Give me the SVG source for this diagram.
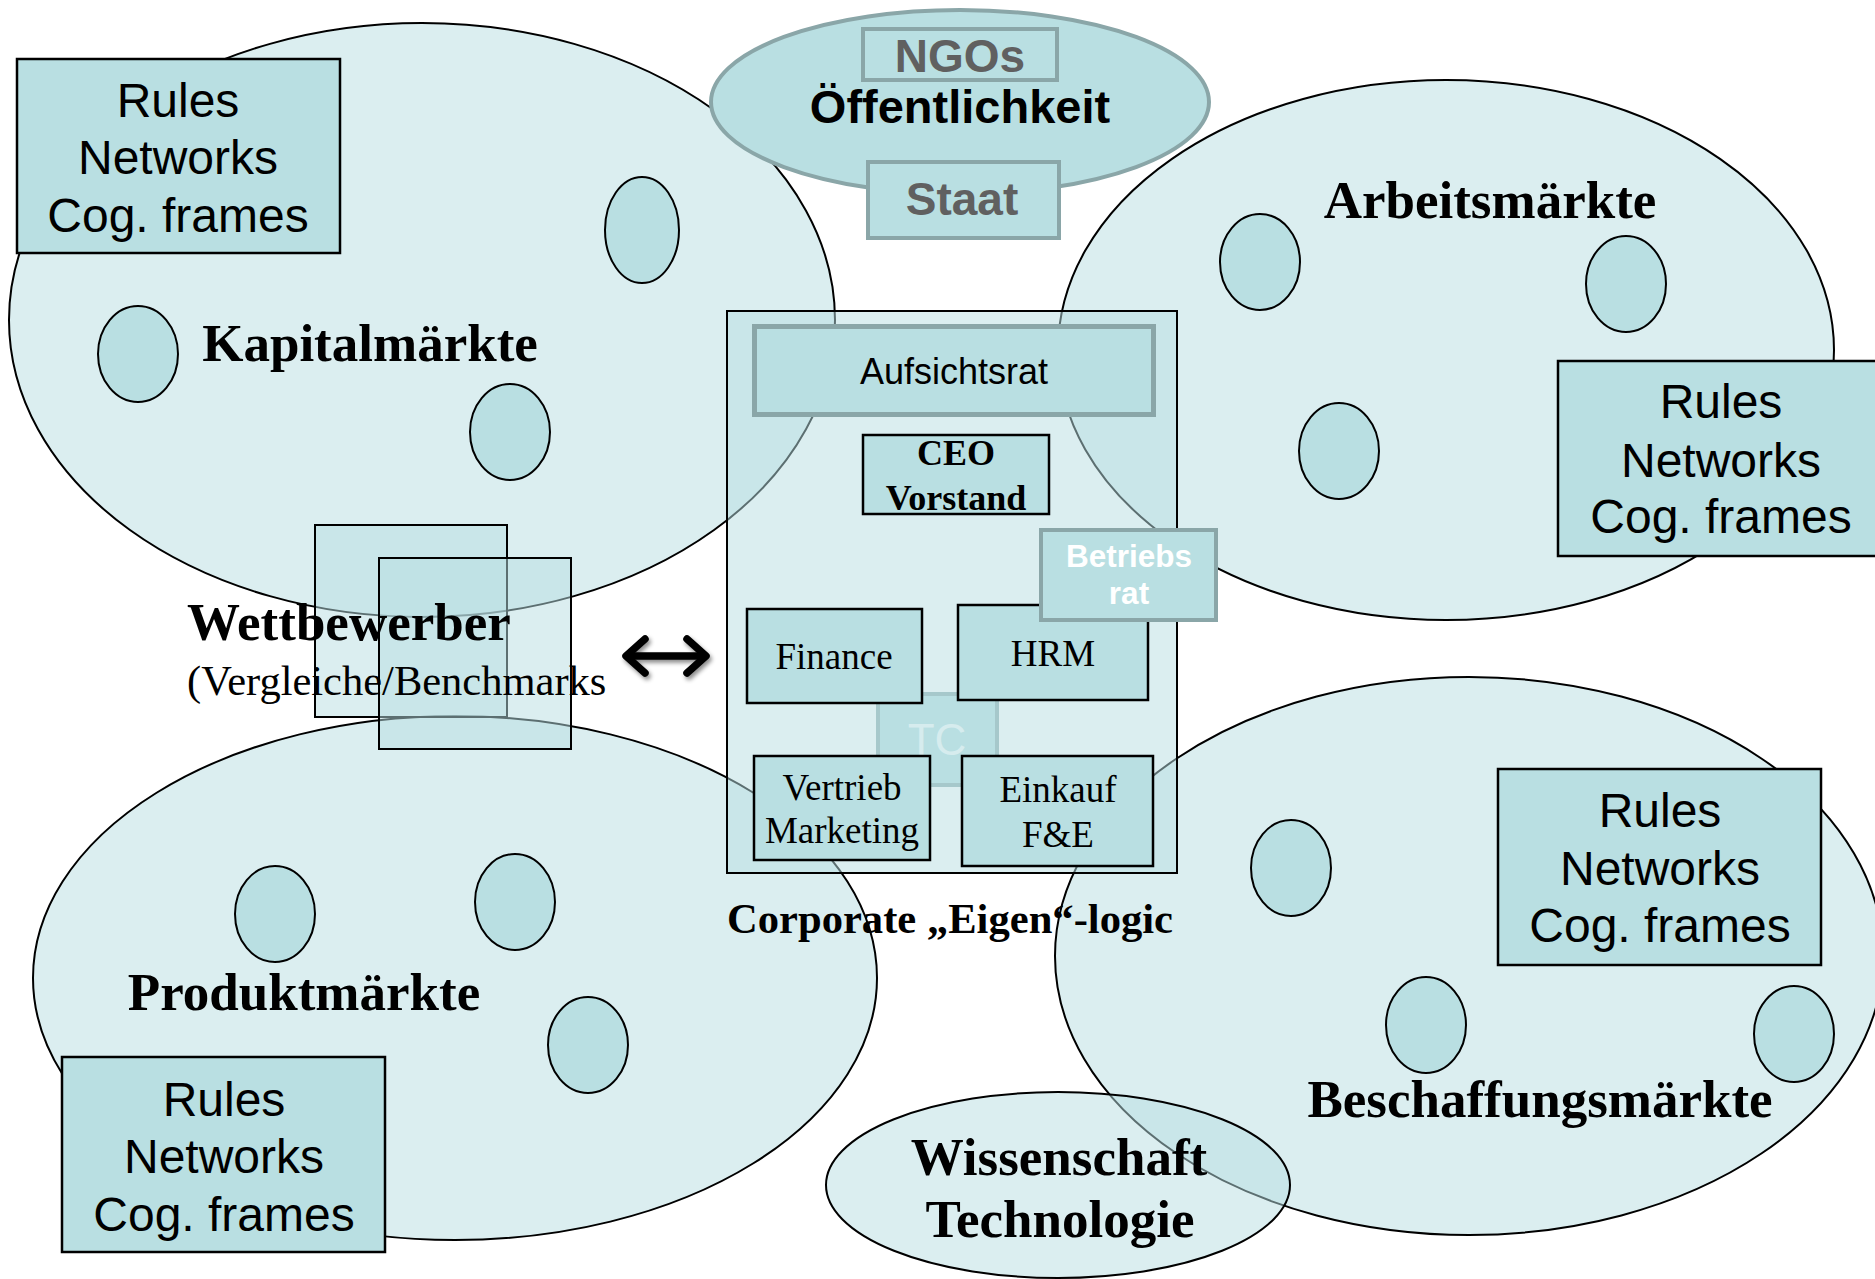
<svg xmlns="http://www.w3.org/2000/svg" width="1875" height="1279" viewBox="0 0 1875 1279">
<defs>
<style>
.big{fill:#b7dde2;fill-opacity:0.5;stroke:#000;stroke-width:2}
.dot{fill:#b9dfe2;stroke:#000;stroke-width:2}
.box{fill:#b9dfe2;stroke:#000;stroke-width:2.5}
.gbox{fill:#b9dfe2;stroke:#8aa6a8;stroke-width:4}
.tr{fill:#b7dde2;fill-opacity:0.5;stroke:#000;stroke-width:2}
.sans{font-family:"Liberation Sans",Arial,sans-serif}
.serif{font-family:"Liberation Serif","Times New Roman",serif}
.mk{font-family:"Liberation Serif","Times New Roman",serif;font-weight:bold;font-size:53px;fill:#000}
.rules{font-family:"Liberation Sans",Arial,sans-serif;font-size:48px;fill:#000;text-anchor:middle}
.unit{font-family:"Liberation Serif","Times New Roman",serif;font-size:37px;fill:#000;text-anchor:middle}
</style>
<filter id="sh" x="-20%" y="-50%" width="140%" height="200%">
<feDropShadow dx="2" dy="3" stdDeviation="2" flood-color="#000" flood-opacity="0.45"/>
</filter>
</defs>
<rect width="1875" height="1279" fill="#fff"/>

<g id="kapitalmaerkte">
<ellipse class="big" cx="422" cy="320" rx="413" ry="297"/>
<ellipse class="dot" cx="642" cy="230" rx="37" ry="53"/>
<ellipse class="dot" cx="138" cy="354" rx="40" ry="48"/>
<ellipse class="dot" cx="510" cy="432" rx="40" ry="48"/>
<text class="mk" x="370" y="361" text-anchor="middle">Kapitalmärkte</text>
<rect class="box" x="17" y="59" width="323" height="194"/>
<text class="rules" x="178" y="117">Rules</text>
<text class="rules" x="178" y="174">Networks</text>
<text class="rules" x="178" y="232">Cog. frames</text>
</g>

<g id="arbeitsmaerkte">
<ellipse class="big" cx="1446" cy="350" rx="388" ry="270"/>
<ellipse class="dot" cx="1260" cy="262" rx="40" ry="48"/>
<ellipse class="dot" cx="1626" cy="284" rx="40" ry="48"/>
<ellipse class="dot" cx="1339" cy="451" rx="40" ry="48"/>
<text class="mk" x="1490" y="218" text-anchor="middle">Arbeitsmärkte</text>
<rect class="box" x="1558" y="361" width="325" height="195"/>
<text class="rules" x="1721" y="418">Rules</text>
<text class="rules" x="1721" y="477">Networks</text>
<text class="rules" x="1721" y="533">Cog. frames</text>
</g>

<g id="produktmaerkte">
<ellipse class="big" cx="455" cy="978" rx="422" ry="262"/>
<ellipse class="dot" cx="275" cy="914" rx="40" ry="48"/>
<ellipse class="dot" cx="515" cy="902" rx="40" ry="48"/>
<ellipse class="dot" cx="588" cy="1045" rx="40" ry="48"/>
<text class="mk" x="304" y="1010" text-anchor="middle">Produktmärkte</text>
<rect class="box" x="62" y="1057" width="323" height="195"/>
<text class="rules" x="224" y="1116">Rules</text>
<text class="rules" x="224" y="1173">Networks</text>
<text class="rules" x="224" y="1231">Cog. frames</text>
</g>

<g id="beschaffungsmaerkte">
<ellipse class="big" cx="1469" cy="956" rx="414" ry="279"/>
<ellipse class="dot" cx="1291" cy="868" rx="40" ry="48"/>
<ellipse class="dot" cx="1426" cy="1025" rx="40" ry="48"/>
<ellipse class="dot" cx="1794" cy="1034" rx="40" ry="48"/>
<text class="mk" x="1540" y="1117" text-anchor="middle">Beschaffungsmärkte</text>
<rect class="box" x="1498" y="769" width="323" height="196"/>
<text class="rules" x="1660" y="827">Rules</text>
<text class="rules" x="1660" y="885">Networks</text>
<text class="rules" x="1660" y="942">Cog. frames</text>
</g>

<g id="oeffentlichkeit">
<ellipse cx="960" cy="102" rx="249" ry="92" fill="#b9dfe2" stroke="#8aa6a8" stroke-width="4"/>
<rect class="gbox" x="863" y="29" width="194" height="51"/>
<text class="sans" x="960" y="72" font-size="46" font-weight="bold" fill="#606060" text-anchor="middle">NGOs</text>
<text class="sans" x="960" y="123" font-size="47" font-weight="bold" fill="#000" text-anchor="middle">Öffentlichkeit</text>
<rect class="gbox" x="868" y="162" width="191" height="76"/>
<text class="sans" x="962" y="215" font-size="46" font-weight="bold" fill="#606060" text-anchor="middle">Staat</text>
</g>

<g id="corporate">
<rect class="tr" x="727" y="311" width="450" height="562"/>
<g id="tc">
<rect x="878" y="694" width="119" height="91" fill="#b9dfe2" stroke="#a6c8cb" stroke-width="4"/>
<text class="sans" x="937" y="755" font-size="44" fill="#d6ecee" text-anchor="middle">TC</text>
</g>
<g id="aufsichtsrat">
<rect x="754.5" y="326.5" width="399" height="88" fill="#b9dfe2" stroke="#8aa6a8" stroke-width="5"/>
<text class="sans" x="954" y="384" font-size="36" fill="#000" text-anchor="middle">Aufsichtsrat</text>
</g>
<g id="ceo">
<rect class="box" x="863" y="435" width="186" height="79"/>
<text class="serif" x="956" y="465" font-size="36" font-weight="bold" text-anchor="middle">CEO</text>
<text class="serif" x="956" y="510" font-size="36" font-weight="bold" text-anchor="middle">Vorstand</text>
</g>
<g id="finance">
<rect class="box" x="747" y="609" width="175" height="94"/>
<text class="unit" x="834" y="669">Finance</text>
</g>
<g id="hrm">
<rect class="box" x="958" y="605" width="190" height="95"/>
<text class="unit" x="1053" y="666">HRM</text>
</g>
<g id="betriebsrat">
<rect class="gbox" x="1041" y="530" width="175" height="90"/>
<text class="sans" x="1129" y="567" font-size="31.5" font-weight="bold" fill="#fff" text-anchor="middle">Betriebs</text>
<text class="sans" x="1129" y="604" font-size="31.5" font-weight="bold" fill="#fff" text-anchor="middle">rat</text>
</g>
<g id="vertrieb">
<rect class="box" x="754" y="756" width="176" height="104"/>
<text class="unit" x="842" y="800">Vertrieb</text>
<text class="unit" x="842" y="843">Marketing</text>
</g>
<g id="einkauf">
<rect class="box" x="962" y="756" width="191" height="110"/>
<text class="unit" x="1058" y="802">Einkauf</text>
<text class="unit" x="1058" y="847">F&amp;E</text>
</g>
<text class="serif" x="950" y="933" font-size="42.6" font-weight="bold" text-anchor="middle">Corporate „Eigen“-logic</text>
</g>

<g id="wettbewerber">
<rect class="tr" x="315" y="525" width="192" height="192"/>
<rect class="tr" x="379" y="558" width="192" height="191"/>
<text class="serif" x="187" y="640" font-size="53" font-weight="bold">Wettbewerber</text>
<text class="serif" x="187" y="695" font-size="42.5">(Vergleiche/Benchmarks</text>
</g>

<g id="connectors">
<g filter="url(#sh)" fill="none" stroke="#000" stroke-width="7.5" stroke-linecap="round" stroke-linejoin="round">
<path d="M628 656 H704"/>
<path d="M645 639 L626 656 L645 673"/>
<path d="M687 639 L706 656 L687 673"/>
</g>
</g>

<g id="wissenschaft">
<ellipse class="big" cx="1058" cy="1185" rx="232" ry="93"/>
<text class="mk" x="1059" y="1175" text-anchor="middle">Wissenschaft</text>
<text class="mk" x="1060" y="1237" text-anchor="middle">Technologie</text>
</g>
</svg>
